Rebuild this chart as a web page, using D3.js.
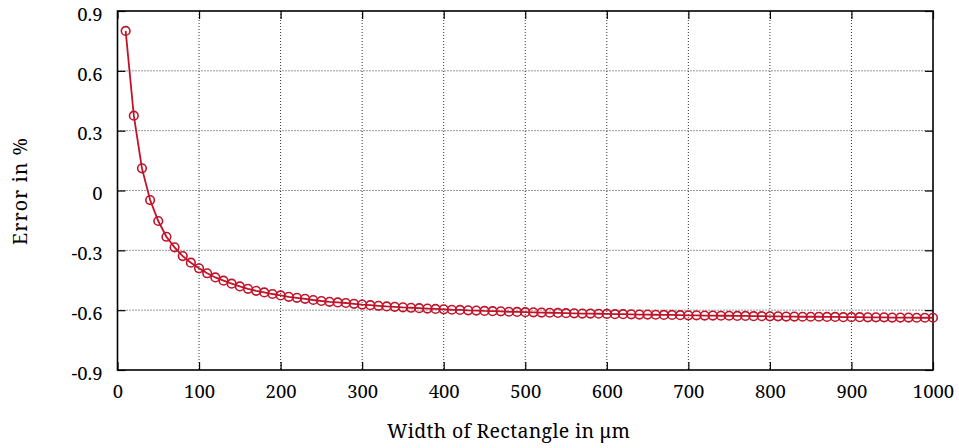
<!DOCTYPE html>
<html>
<head>
<meta charset="utf-8">
<script src="https://cdn.jsdelivr.net/npm/d3@7"></script>
<style>
  html, body { margin: 0; padding: 0; background: #fff; }
</style>
</head>
<body>
<svg id="chart" width="959" height="448"></svg>
<script>
const widths = [10,20,30,40,50,60,70,80,90,100,110,120,130,140,150,160,170,180,190,200,
  210,220,230,240,250,260,270,280,290,300,310,320,330,340,350,360,370,380,390,400,
  410,420,430,440,450,460,470,480,490,500,510,520,530,540,550,560,570,580,590,600,
  610,620,630,640,650,660,670,680,690,700,710,720,730,740,750,760,770,780,790,800,
  810,820,830,840,850,860,870,880,890,900,910,920,930,940,950,960,970,980,990,1000];
const errors = [0.80,0.375,0.111,-0.048,-0.153,-0.232,-0.285,-0.329,-0.362,-0.390,
  -0.415,-0.436,-0.452,-0.467,-0.481,-0.493,-0.503,-0.511,-0.519,-0.526,
  -0.533,-0.538,-0.543,-0.549,-0.554,-0.558,-0.561,-0.564,-0.568,-0.572,
  -0.575,-0.578,-0.581,-0.583,-0.586,-0.588,-0.590,-0.592,-0.594,-0.596,
  -0.598,-0.599,-0.601,-0.602,-0.604,-0.605,-0.606,-0.608,-0.609,-0.610,
  -0.611,-0.612,-0.613,-0.614,-0.615,-0.616,-0.617,-0.617,-0.618,-0.619,
  -0.620,-0.620,-0.621,-0.622,-0.622,-0.623,-0.624,-0.624,-0.625,-0.626,
  -0.626,-0.627,-0.627,-0.628,-0.628,-0.629,-0.629,-0.630,-0.630,-0.631,
  -0.631,-0.632,-0.632,-0.633,-0.633,-0.633,-0.634,-0.634,-0.635,-0.635,
  -0.635,-0.636,-0.636,-0.636,-0.637,-0.637,-0.637,-0.638,-0.638,-0.638];
const xTicks = [0,100,200,300,400,500,600,700,800,900,1000];
const xTickLabels = ["0","100","200","300","400","500","600","700","800","900","1000"];
const yTicks = [-0.9,-0.6,-0.3,0,0.3,0.6,0.9];
const yTickLabels = ["-0.9","-0.6","-0.3","0","0.3","0.6","0.9"];
const xTitle = "Width of Rectangle in μm";
const yTitle = "Error in %";

const FONT = '"Noto Serif", "Liberation Serif", serif';
const svg = d3.select("#chart");
const m = {left: 117.5, right: 933, top: 11, bottom: 370};
const x = d3.scaleLinear().domain([0, 1000]).range([m.left, m.right]);
const y = d3.scaleLinear().domain([-0.9, 0.9]).range([m.bottom, m.top]);
const red = "#c0142a";

// grid
const grid = svg.append("g");
grid.selectAll(".gx").data(xTicks.slice(1, -1)).enter().append("line")
  .attr("x1", d => x(d)).attr("x2", d => x(d))
  .attr("y1", m.top).attr("y2", m.bottom)
  .attr("stroke", "#333").attr("stroke-width", 1).attr("stroke-dasharray", "1,2");
grid.selectAll(".gy").data(yTicks.slice(1, -1)).enter().append("line")
  .attr("x1", m.left).attr("x2", m.right)
  .attr("y1", d => y(d)).attr("y2", d => y(d))
  .attr("stroke", "#333").attr("stroke-width", 1).attr("stroke-dasharray", "1,2");

// axes with inward ticks
const fmtX = (d) => xTickLabels[xTicks.indexOf(d)];
const fmtY = (d) => yTickLabels[yTicks.findIndex(t => Math.abs(t - d) < 1e-9)];
const axB = svg.append("g").attr("transform", `translate(0,${m.bottom})`)
  .call(d3.axisBottom(x).tickValues(xTicks).tickFormat(fmtX).tickSizeInner(-8).tickSizeOuter(0).tickPadding(15));
const axT = svg.append("g").attr("transform", `translate(0,${m.top})`)
  .call(d3.axisTop(x).tickValues(xTicks).tickSizeInner(-8).tickSizeOuter(0).tickFormat(""));
const axL = svg.append("g").attr("transform", `translate(${m.left},0)`)
  .call(d3.axisLeft(y).tickValues(yTicks).tickFormat(fmtY).tickSizeInner(-8).tickSizeOuter(0).tickPadding(15));
const axR = svg.append("g").attr("transform", `translate(${m.right},0)`)
  .call(d3.axisRight(y).tickValues(yTicks).tickSizeInner(-8).tickSizeOuter(0).tickFormat(""));
[axB, axT, axL, axR].forEach(a => {
  a.attr("font-family", FONT).attr("font-size", 18.5);
  a.select(".domain").remove();
  a.selectAll(".tick line").attr("stroke", "#000").attr("stroke-width", 1.2);
  a.selectAll("text").style("font-family", FONT).style("font-size", "18.5px").attr("fill", "#000");
});
axL.selectAll("text").attr("dy", "0.5em");

// frame
svg.append("rect").attr("x", m.left).attr("y", m.top)
  .attr("width", m.right - m.left).attr("height", m.bottom - m.top)
  .attr("fill", "none").attr("stroke", "#000").attr("stroke-width", 1.6);

// data
const data = widths.map((w, i) => ({w, e: errors[i]}));
svg.append("path").datum(data)
  .attr("d", d3.line().x(d => x(d.w)).y(d => y(d.e)))
  .attr("fill", "none").attr("stroke", red).attr("stroke-width", 1.8);
svg.append("g").selectAll("circle").data(data).enter().append("circle")
  .attr("cx", d => x(d.w)).attr("cy", d => y(d.e)).attr("r", 4.3)
  .attr("fill", "none").attr("stroke", red).attr("stroke-width", 1.6);

// titles
svg.append("text").attr("x", 387).attr("y", 438)
  .attr("text-anchor", "start").style("font-family", FONT).style("font-size", "19.5px")
  .attr("textLength", 243).attr("lengthAdjust", "spacing").text(xTitle);
svg.append("text").attr("transform", `translate(27,245) rotate(-90)`)
  .attr("text-anchor", "start").style("font-family", FONT).style("font-size", "19.5px")
  .attr("textLength", 107).attr("lengthAdjust", "spacing").text(yTitle);
</script>
</body>
</html>
